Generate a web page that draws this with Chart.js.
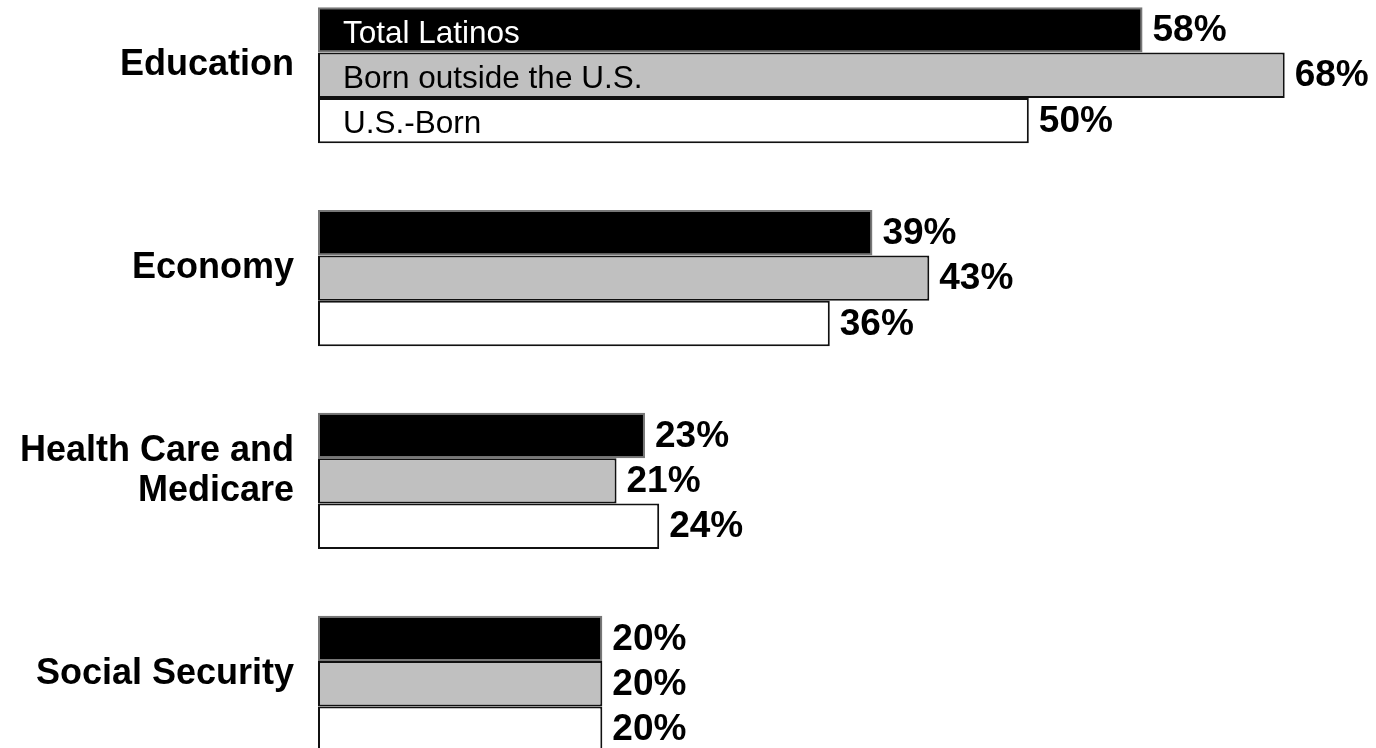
<!DOCTYPE html>
<html>
<head>
<meta charset="utf-8">
<title>Top issues for Latinos</title>
<script src="https://cdn.jsdelivr.net/npm/chart.js@4.4.0/dist/chart.umd.min.js"></script>
<style>
  html, body { margin: 0; padding: 0; background: #fff; overflow: hidden; }
  #wrap { position: absolute; left: 0; top: -70px; width: 1376px; height: 899px; }
</style>
</head>
<body>
<div id="wrap"><canvas id="issueChart"></canvas></div>
<script>
// ==========================
// Data
// ==========================
const categories = ['Education', 'Economy', ['Health Care and', 'Medicare'], 'Social Security'];
const seriesNames = ['Total Latinos', 'Born outside the U.S.', 'U.S.-Born'];
const totalLatinos = [58, 39, 23, 20];
const bornOutside = [68, 43, 21, 20];
const usBorn = [50, 36, 24, 20];

const fontFamily = 'Arial, "Liberation Sans", Helvetica, sans-serif';

// labels inside the first group of bars + value labels at bar ends
const barLabels = {
  id: 'barLabels',
  afterDatasetsDraw(chart) {
    const ctx = chart.ctx;
    ctx.save();
    chart.data.datasets.forEach((ds, i) => {
      const meta = chart.getDatasetMeta(i);
      meta.data.forEach((bar, j) => {
        // value
        ctx.font = 'bold 37px ' + fontFamily;
        ctx.fillStyle = '#000';
        ctx.textAlign = 'left';
        ctx.textBaseline = 'middle';
        ctx.fillText(ds.data[j] + '%', bar.x + 10, bar.y + 1);

        // series name inside the Education bars
        if (j === 0) {
          ctx.font = '31.5px ' + fontFamily;
          ctx.fillStyle = i === 0 ? '#fff' : '#000';
          ctx.fillText(ds.label, bar.base + 25, bar.y + 4);
        }
      });
    });
    ctx.restore();
  }
};

new Chart(document.getElementById('issueChart').getContext('2d'), {
  type: 'bar',
  data: {
    labels: categories,
    datasets: [
      { label: seriesNames[0], data: totalLatinos, backgroundColor: '#000', borderColor: '#777' },
      { label: seriesNames[1], data: bornOutside, backgroundColor: '#c0c0c0', borderColor: '#111' },
      { label: seriesNames[2], data: usBorn, backgroundColor: '#fff', borderColor: '#111' }
    ]
  },
  options: {
    indexAxis: 'y',
    responsive: true,
    maintainAspectRatio: false,
    animation: false,
    layout: { padding: { left: 0, right: 6, top: 0, bottom: 0 } },
    datasets: {
      bar: {
        borderWidth: 2,
        borderSkipped: false,
        categoryPercentage: 0.671,
        barPercentage: 1
      }
    },
    plugins: {
      legend: { display: false },
      tooltip: { enabled: false }
    },
    scales: {
      x: {
        display: false,
        min: 0,
        max: 74
      },
      y: {
        grid: { display: false, drawTicks: false },
        border: { display: false },
        afterFit: (scale) => { scale.width = 318; },
        ticks: {
          padding: 24,
          labelOffset: -10,
          color: '#000',
          font: { family: fontFamily, size: 36, weight: 'bold', lineHeight: 1.1 }
        }
      }
    }
  },
  plugins: [barLabels]
});
</script>
</body>
</html>
